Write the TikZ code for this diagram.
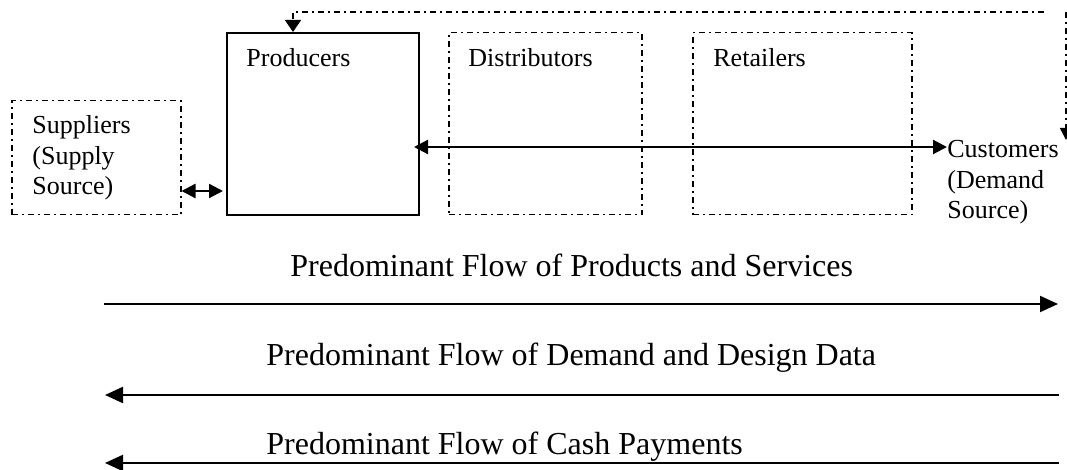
\documentclass[tikz,border=0pt]{standalone}
\usepackage{fontspec}
\setmainfont{Liberation Serif}
\usetikzlibrary{arrows.meta}
\newcommand{\boxfont}{\fontsize{13}{15.4}\selectfont}
\newcommand{\flowfont}{\fontsize{16}{19}\selectfont}
\tikzset{
  ddbox/.style={draw, line width=0.75pt, dash pattern=on 3pt off 2pt on 1pt off 2pt,
                inner sep=0pt, anchor=north west},
  solidbox/.style={draw, line width=1pt, inner sep=0pt, anchor=north west},
  lbl/.style={font=\boxfont, inner sep=0pt, anchor=base west, align=left},
  flowlbl/.style={font=\flowfont, inner sep=0pt, anchor=base west},
  bigarr/.style={line width=1.1pt, -{Triangle[length=9pt,width=8pt]}},
  smallarr/.style={line width=1.1pt, {Triangle[length=7pt,width=7pt]}-{Triangle[length=7pt,width=7pt]}},
  fback/.style={line width=0.75pt, dash pattern=on 3pt off 2pt on 1pt off 2pt},
}
\begin{document}
\begin{tikzpicture}[x=0.5pt,y=-0.5pt]
\useasboundingbox (0,0) rectangle (1067,470);
\fill[white] (0,0) rectangle (1067,470);

% boxes of the chain
\node[ddbox, minimum width=84.5pt, minimum height=57pt] (sup) at (11,100) {};
\node[solidbox, minimum width=96pt, minimum height=91pt] (prod) at (226,32) {};
\node[ddbox, minimum width=96.5pt, minimum height=91pt] (dist) at (448,32) {};
\node[ddbox, minimum width=109.5pt, minimum height=91pt] (ret) at (692,32) {};

% labels (multi-line labels are placed by the baseline of their last line)
\node[lbl] (supT) at (32,195) {Suppliers\\(Supply\\Source)};
\node[lbl] (prodT) at (246,67) {Producers};
\node[lbl] (distT) at (468,67) {Distributors};
\node[lbl] (retT) at (713,67) {Retailers};
\node[lbl] (cust) at (947,219) {Customers\\(Demand\\Source)};

% supplier <-> producer
\coordinate (sy) at (0,191);
\draw[smallarr] (sup.east |- sy) -- ([xshift=-1.5pt]prod.west |- sy);

% producer <-> customers
\coordinate (ly) at (0,147);
\coordinate (custIn) at (947,147);
\draw[smallarr] ([xshift=-3pt]prod.east |- ly) -- (custIn);

% demand feedback from customers back to producers
\coordinate (fbL) at (293,12);
\coordinate (fbE) at (1044,12);
\coordinate (fbR) at (1066,12);
\coordinate (fbIn) at (1066,140);
\draw[fback, -{Triangle[length=6pt,width=8pt]}] (fbE) -- (fbL) -- (fbL |- prod.north);
\draw[fback, -{Triangle[length=6pt,width=6pt]}] (fbR) -- (fbIn);

% predominant flows
\node[flowlbl] (f1) at (290,277) {Predominant Flow of Products and Services};
\node[flowlbl] (f2) at (266,366) {Predominant Flow of Demand and Design Data};
\node[flowlbl] (f3) at (266,455) {Predominant Flow of Cash Payments};

\coordinate (a1s) at (104,304);
\coordinate (a1e) at (1058,304);
\coordinate (a2s) at (1059,395);
\coordinate (a2e) at (105,395);
\coordinate (a3s) at (1059,463);
\coordinate (a3e) at (105,463);
\draw[bigarr] (a1s) -- (a1e);
\draw[bigarr] (a2s) -- (a2e);
\draw[bigarr] (a3s) -- (a3e);
\end{tikzpicture}
\end{document}
